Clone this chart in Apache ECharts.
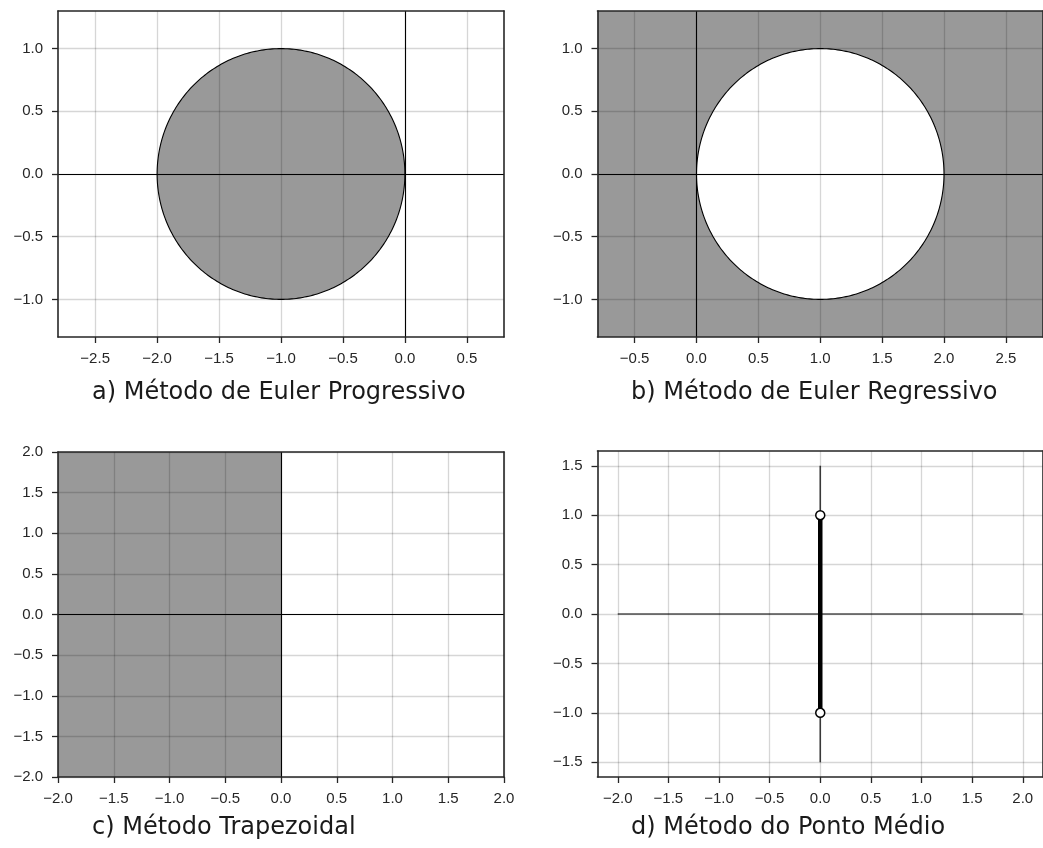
<!DOCTYPE html>
<html>
<head>
<meta charset="utf-8">
<title>Regiões de estabilidade</title>
<script src="https://cdn.jsdelivr.net/npm/echarts@6/dist/echarts.min.js"></script>
<style>
  html, body { margin: 0; padding: 0; background: #fff; }
  #chart { width: 1043px; height: 848px; }
</style>
</head>
<body>
<div id="chart"></div>
<script>
// Subplot captions
const captions = [
  'a) Método de Euler Progressivo',
  'b) Método de Euler Regressivo',
  'c) Método Trapezoidal',
  'd) Método do Ponto Médio'
];

// Axis ranges and tick values for each panel
const rangeA = { x: [-2.8, 0.8], y: [-1.3, 1.3] };
const rangeB = { x: [-0.8, 2.8], y: [-1.3, 1.3] };
const rangeC = { x: [-2.0, 2.0], y: [-2.0, 2.0] };
const rangeD = { x: [-2.2, 2.2], y: [-1.65, 1.65] };

const ticksAx = [-2.5, -2.0, -1.5, -1.0, -0.5, 0.0, 0.5];
const ticksBx = [-0.5, 0.0, 0.5, 1.0, 1.5, 2.0, 2.5];
const ticksABy = [-1.0, -0.5, 0.0, 0.5, 1.0];
const ticksC = [-2.0, -1.5, -1.0, -0.5, 0.0, 0.5, 1.0, 1.5, 2.0];
const ticksDx = [-2.0, -1.5, -1.0, -0.5, 0.0, 0.5, 1.0, 1.5, 2.0];
const ticksDy = [-1.5, -1.0, -0.5, 0.0, 0.5, 1.0, 1.5];

// Stability regions
const eulerProgCircle = { center: [-1, 0], radius: 1 };   // |1 + z| <= 1
const eulerRegCircle = { center: [1, 0], radius: 1 };     // |1 - z| >= 1
const trapezoidalHalfPlane = [[-2.0, -2.0], [0.0, -2.0], [0.0, 2.0], [-2.0, 2.0]]; // Re(z) <= 0
// Ponto médio: segmento imaginário [-i, i]
const midpointSegment = [[0, -1], [0, 1]];
const midpointEnds = [[0, 1], [0, -1]];
const midpointImagAxis = [[0, -1.5], [0, 1.5]];
const midpointRealAxis = [[-2.0, 0], [2.0, 0]];

const FILL = 'rgba(0,0,0,0.4)';
const GRIDLINE = 'rgba(0,0,0,0.16)';
const INK = '#262626';
const TICK_FONT = 'Liberation Sans';

const chart = echarts.init(document.getElementById('chart'), null, { renderer: 'canvas' });

function fmt(v) {
  const s = Number(v).toFixed(1);
  return s.replace('-', '\u2212');
}

const grids = [
  { left: 58, top: 11, width: 446, height: 326 },
  { left: 597.5, top: 11, width: 446, height: 326 },
  { left: 58, top: 452, width: 446, height: 325 },
  { left: 597.5, top: 451, width: 446, height: 326 }
];

const xAxes = [];
const yAxes = [];

function addAxes(g, range, xt, yt) {
  const common = { type: 'value', gridIndex: g, z: 5 };
  // bottom axis: spine, ticks, labels, vertical grid lines
  xAxes.push(Object.assign({}, common, {
    position: 'bottom', min: range.x[0], max: range.x[1],
    axisLine: { show: true, onZero: false, lineStyle: { color: INK, width: 1.6 } },
    axisTick: { show: true, length: 6, customValues: xt, lineStyle: { color: INK, width: 1.3 } },
    axisLabel: { show: true, customValues: xt, formatter: fmt, margin: 14,
      fontFamily: TICK_FONT, fontSize: 15, color: INK },
    splitLine: { show: true, lineStyle: { color: GRIDLINE, width: 1.3 } }
  }));
  // top spine
  xAxes.push(Object.assign({}, common, {
    position: 'top', min: range.x[0], max: range.x[1],
    axisLine: { show: true, onZero: false, lineStyle: { color: INK, width: 1.6 } },
    axisTick: { show: false }, axisLabel: { show: false }, splitLine: { show: false }
  }));
  yAxes.push(Object.assign({}, common, {
    position: 'left', min: range.y[0], max: range.y[1],
    axisLine: { show: true, onZero: false, lineStyle: { color: INK, width: 1.6 } },
    axisTick: { show: true, length: 6, customValues: yt, lineStyle: { color: INK, width: 1.3 } },
    axisLabel: { show: true, customValues: yt, formatter: fmt, margin: 15,
      fontFamily: TICK_FONT, fontSize: 15, color: INK },
    splitLine: { show: true, lineStyle: { color: GRIDLINE, width: 1.3 } }
  }));
  yAxes.push(Object.assign({}, common, {
    position: 'right', min: range.y[0], max: range.y[1],
    axisLine: { show: true, onZero: false, lineStyle: { color: INK, width: 1.6 } },
    axisTick: { show: false }, axisLabel: { show: false }, splitLine: { show: false }
  }));
}

addAxes(0, rangeA, ticksAx, ticksABy);
addAxes(1, rangeB, ticksBx, ticksABy);
addAxes(2, rangeC, ticksC, ticksC);
addAxes(3, rangeD, ticksDx, ticksDy);

// points of a circle in data space, mapped through the axes
function circlePoints(api, c, r, from, to, n) {
  const pts = [];
  for (let i = 0; i <= n; i++) {
    const t = from + (to - from) * i / n;
    pts.push(api.coord([c[0] + r * Math.cos(t), c[1] + r * Math.sin(t)]));
  }
  return pts;
}

const zeroLines = {
  silent: true, symbol: 'none', label: { show: false },
  lineStyle: { color: '#000', width: 1.1, type: 'solid' },
  emphasis: { disabled: true },
  data: [{ xAxis: 0 }, { yAxis: 0 }]
};

const series = [
  // a) disc |1+z| <= 1
  {
    type: 'custom', xAxisIndex: 0, yAxisIndex: 0, clip: true, silent: true,
    data: [[eulerProgCircle.center[0], eulerProgCircle.center[1], eulerProgCircle.radius]],
    renderItem: function (params, api) {
      const c = [api.value(0), api.value(1)], r = api.value(2);
      return {
        type: 'polygon',
        shape: { points: circlePoints(api, c, r, 0, 2 * Math.PI, 360) },
        style: { fill: FILL, stroke: '#000', lineWidth: 1.1 }
      };
    },
    markLine: zeroLines
  },
  // b) outside of |1-z| = 1
  {
    type: 'custom', xAxisIndex: 2, yAxisIndex: 2, clip: true, silent: true,
    data: [[eulerRegCircle.center[0], eulerRegCircle.center[1], eulerRegCircle.radius]],
    renderItem: function (params, api) {
      const c = [api.value(0), api.value(1)], r = api.value(2);
      const x0 = rangeB.x[0], x1 = rangeB.x[1], y0 = rangeB.y[0], y1 = rangeB.y[1];
      const outer = [[x0, c[1]], [x0, y0], [x1, y0], [x1, y1], [x0, y1], [x0, c[1]]].map(p => api.coord(p));
      // inner boundary traversed the opposite way to cut the hole
      const inner = circlePoints(api, c, r, Math.PI, -Math.PI, 360);
      return {
        type: 'group',
        children: [
          { type: 'polygon', shape: { points: outer.concat(inner) }, style: { fill: FILL, stroke: null } },
          { type: 'polyline', shape: { points: circlePoints(api, c, r, 0, 2 * Math.PI, 360) },
            style: { fill: null, stroke: '#000', lineWidth: 1.1 } }
        ]
      };
    },
    markLine: zeroLines
  },
  // c) left half plane
  {
    type: 'custom', xAxisIndex: 4, yAxisIndex: 4, clip: true, silent: true,
    data: [0],
    renderItem: function (params, api) {
      return {
        type: 'polygon',
        shape: { points: trapezoidalHalfPlane.map(p => api.coord(p)) },
        style: { fill: FILL, stroke: null }
      };
    },
    markLine: zeroLines
  },
  // d) imaginary segment
  {
    type: 'line', xAxisIndex: 6, yAxisIndex: 6, data: midpointRealAxis,
    symbol: 'none', silent: true, lineStyle: { color: '#000', width: 1.1 }
  },
  {
    type: 'line', xAxisIndex: 6, yAxisIndex: 6, data: midpointImagAxis,
    symbol: 'none', silent: true, lineStyle: { color: '#444', width: 1.6 }
  },
  {
    type: 'line', xAxisIndex: 6, yAxisIndex: 6, data: midpointSegment, z: 8,
    symbol: 'none', silent: true, lineStyle: { color: '#000', width: 4.5 }
  },
  {
    type: 'scatter', xAxisIndex: 6, yAxisIndex: 6, data: midpointEnds, z: 9,
    symbol: 'circle', symbolSize: 9, silent: true,
    itemStyle: { color: '#fff', opacity: 1, borderColor: '#000', borderWidth: 1.5 }
  }
];

const captionPos = [
  { left: 92, top: 381 },
  { left: 631, top: 381 },
  { left: 92, top: 816 },
  { left: 631, top: 816 }
];

chart.setOption({
  animation: false,
  backgroundColor: '#fff',
  title: captions.map((t, i) => ({
    text: t, left: captionPos[i].left, top: captionPos[i].top, padding: 0,
    textStyle: { fontFamily: 'DejaVu Sans', fontSize: 24, fontWeight: 'normal', color: '#1a1a1a' }
  })),
  grid: grids,
  xAxis: xAxes,
  yAxis: yAxes,
  series: series
});
</script>
</body>
</html>
